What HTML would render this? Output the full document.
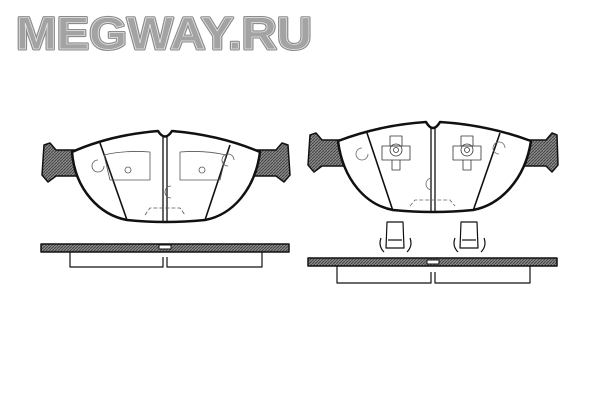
<!DOCTYPE html>
<html><head><meta charset="utf-8"><style>html,body{margin:0;padding:0;background:#fff}svg{display:block}</style></head><body>
<svg width="600" height="400" viewBox="0 0 600 400" xmlns="http://www.w3.org/2000/svg">
<defs>
<pattern id="h" width="3" height="3" patternUnits="userSpaceOnUse"><rect width="3" height="3" fill="#8a8a8a"/><path d="M0 3L3 0" stroke="#444" stroke-width="1"/></pattern>
</defs>
<text x="16" y="49" font-family="Liberation Sans, sans-serif" font-weight="bold" font-size="45" fill="#a3a3a3" stroke="#8c8c8c" stroke-width="3" stroke-linejoin="round" textLength="296" lengthAdjust="spacingAndGlyphs">MEGWAY.RU</text>
<text x="16" y="49" font-family="Liberation Sans, sans-serif" font-weight="bold" font-size="45" fill="#a3a3a3" stroke="#e8e8e8" stroke-width="0.7" textLength="296" lengthAdjust="spacingAndGlyphs">MEGWAY.RU</text>

<g stroke="#111" fill="none" stroke-linejoin="round">
<!-- LEFT PAD -->
<path d="M76 150 L56 150 L50 143 L44 145 L42 175 L48 182 L56 176 L80 176 Z" fill="url(#h)" stroke-width="1.5"/>
<path d="M256 150 L276 150 L282 143 L288 145 L290 175 L284 182 L276 176 L252 176 Z" fill="url(#h)" stroke-width="1.5"/>
<path d="M72 152 Q110 135 158 131 Q165 142 172 131 Q220 135 260 152 C255 190 232 215 205 220 Q165 224 127 220 C100 215 75 190 72 152 Z" fill="#fff" stroke-width="2.5"/>
<path d="M100 143 L127 220 M230 145 L205 220" stroke-width="1.6"/>
<path d="M163 137 V221 M167 137 V221" stroke-width="1.3"/>
<g stroke-width="0.8" stroke="#555">
<path d="M104 155 Q125 150 150 152 V180 H110 Z"/>
<path d="M180 152 Q205 150 226 155 L220 180 H180 Z"/>
<circle cx="128" cy="170" r="3"/><circle cx="202" cy="170" r="3"/>
<path d="M98 160 a6 6 0 1 0 6 6 M234 160 a6 6 0 1 0 -6 6 M171 186 a6 6 0 1 0 0 12"/>
<path d="M145 215 L150 208 H180 L185 215" stroke-dasharray="4 2"/>
</g>
<rect x="41" y="244" width="248" height="8" fill="url(#h)" stroke-width="1.5"/>
<path d="M70 252 V267 H163 V257 M167 257 V267 H262 V252" stroke-width="1.2"/>
<rect x="159" y="245" width="12" height="4" fill="#fff" stroke-width="1"/>

<!-- RIGHT PAD -->
<path d="M342 140 L322 140 L316 133 L310 135 L308 165 L314 172 L322 166 L346 166 Z" fill="url(#h)" stroke-width="1.5"/>
<path d="M526 140 L546 140 L552 133 L557 135 L558 165 L552 172 L546 166 L522 166 Z" fill="url(#h)" stroke-width="1.5"/>
<path d="M338 141 Q380 125 426 122 Q433 134 440 122 Q488 125 531 141 C525 180 500 205 473 210 Q433 214 393 210 C366 205 343 180 338 141 Z" fill="#fff" stroke-width="2.5"/>
<path d="M367 133 L393 211 M500 133 L473 211" stroke-width="1.6"/>
<path d="M431 127 V211 M435 127 V211" stroke-width="1.3"/>
<g stroke-width="0.8" stroke="#333">
<g transform="translate(396,150)"><rect x="-6" y="-14" width="12" height="10"/><rect x="-14" y="-4" width="28" height="14"/><circle r="6"/><circle r="2.5"/><path d="M-4 10 V20 H4 V10"/></g>
<g transform="translate(467,150)"><rect x="-6" y="-14" width="12" height="10"/><rect x="-14" y="-4" width="28" height="14"/><circle r="6"/><circle r="2.5"/><path d="M-4 10 V20 H4 V10"/></g>
<path d="M362 148 a6 6 0 1 0 6 6 M505 148 a6 6 0 1 0 -6 6 M432 178 a6 6 0 1 0 0 12" stroke="#666"/>
<path d="M410 206 L415 200 H450 L455 206" stroke-dasharray="4 2" stroke="#666"/>
</g>
<g stroke-width="1.2" fill="#fff">
<path d="M387 222 H403 L404 248 H386 Z"/><path d="M381 238 Q378 246 384 252 M410 238 Q413 246 407 252"/><path d="M388 240 H402"/>
<path d="M461 222 H477 L478 248 H460 Z"/><path d="M455 238 Q452 246 458 252 M484 238 Q487 246 481 252"/><path d="M462 240 H476"/>
</g>
<rect x="308" y="258" width="249" height="8" fill="url(#h)" stroke-width="1.5"/>
<path d="M337 266 V283 H431 V272 M435 272 V283 H530 V266" stroke-width="1.2"/>
<rect x="427" y="260" width="12" height="4" fill="#fff" stroke-width="1"/>
</g>
</svg>
</body></html>
